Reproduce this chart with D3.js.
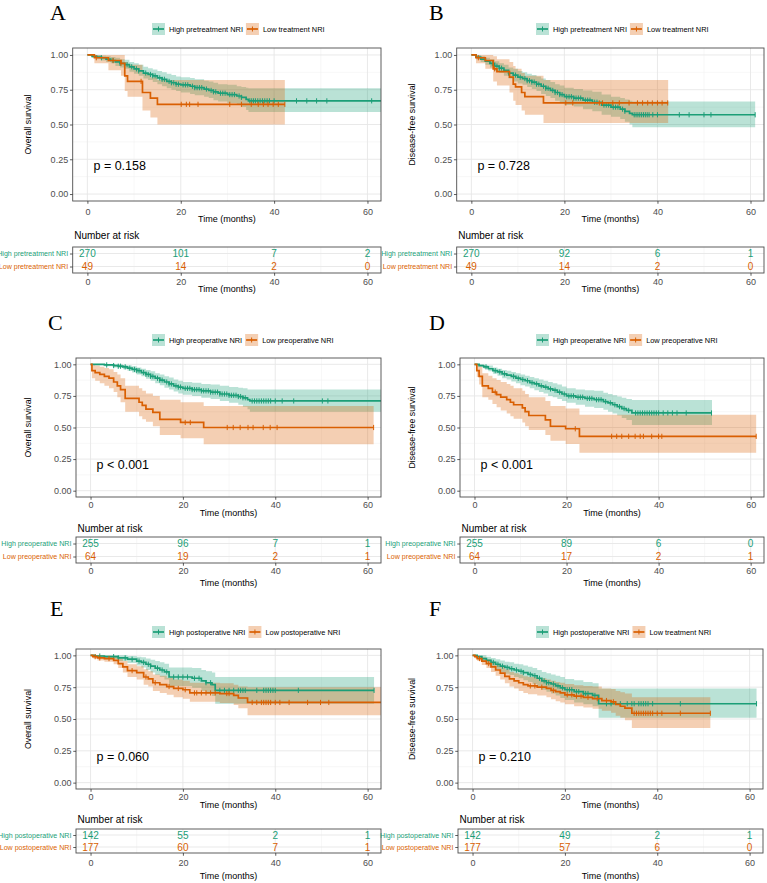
<!DOCTYPE html>
<html>
<head>
<meta charset="utf-8">
<script src="https://cdn.jsdelivr.net/npm/d3@7"></script>
<style>
body { margin: 0; background: #fff; }
svg text { font-family: "Liberation Sans", Arial, sans-serif; }
</style>
</head>
<body>
<svg id="chart" width="767" height="883"></svg>
<script>
// Kaplan-Meier steps: [time, survival, lower CI, upper CI]
// each curve also has an end time and a list of censoring times

// A -- overall survival, pretreatment NRI
var aHigh = [[0,1,1,1],[1,0.99,0.98,1],[2,0.985,0.97,1],[3,0.98,0.96,0.995],[4,0.97,0.95,0.99],[5,0.96,0.94,0.985],
  [6,0.95,0.92,0.98],[7,0.94,0.91,0.97],[8,0.93,0.9,0.965],[9,0.915,0.88,0.95],[10,0.9,0.865,0.94],[11,0.885,0.85,0.93],
  [12,0.87,0.83,0.915],[13,0.86,0.82,0.905],[14,0.85,0.805,0.895],[15,0.835,0.79,0.885],[16,0.825,0.775,0.875],
  [17,0.81,0.76,0.865],[18,0.8,0.75,0.855],[19,0.79,0.74,0.845],[20,0.785,0.73,0.84],[22,0.775,0.72,0.835],
  [23,0.765,0.71,0.825],[25,0.755,0.7,0.815],[26,0.745,0.69,0.81],[27,0.735,0.675,0.8],[28,0.725,0.665,0.79],
  [30,0.715,0.655,0.785],[32,0.705,0.64,0.775],[33,0.695,0.625,0.77],[34,0.68,0.605,0.765],[34.5,0.67,0.59,0.76]];
var aHighEnd = 63.5;
var aHighCens = [3,5.5,7,8.5,9.5,10.5,11,12.5,13.5,14,14.5,15.5,16,16.5,17.5,18,18.5,19,19.5,20.5,21,21.5,22.5,23,23.5,
  24,24.5,25.5,26.5,27,27.5,28.5,29,29.5,30.5,31,31.5,32.5,33,34.8,35.2,35.6,36,36.5,37,37.5,38,38.5,39,40,44.8,47,49.1,51.3,60.9];
var aLow = [[0,1,1,1],[1.5,0.98,0.94,1],[4.5,0.96,0.89,1],[7.2,0.94,0.85,1],[8,0.85,0.74,0.95],[8.6,0.81,0.7,0.93],
  [11.8,0.73,0.6,0.87],[13.5,0.69,0.55,0.84],[15,0.645,0.5,0.82]];
var aLowEnd = 42.3;
var aLowCens = [1.9,5.5,7.2,11.5,20.1,21.2,21.9,23.7,30.5,33,35.1,36.6,37.7,38.7,39.8,40.9,42.3];

// B -- disease-free survival, pretreatment NRI
var bHigh = [[0,1,1,1],[1,0.985,0.97,1],[2,0.97,0.95,0.99],[3,0.955,0.93,0.98],[4,0.94,0.91,0.97],[5,0.92,0.885,0.955],
  [6,0.905,0.87,0.94],[7,0.89,0.85,0.93],[8,0.87,0.83,0.91],[9,0.855,0.81,0.9],[10,0.84,0.795,0.885],[11,0.83,0.785,0.875],
  [12,0.815,0.77,0.865],[13,0.805,0.755,0.855],[14,0.79,0.74,0.845],[15,0.775,0.72,0.83],[16,0.76,0.705,0.82],
  [17,0.745,0.69,0.805],[18,0.73,0.67,0.79],[19,0.715,0.655,0.78],[20,0.7,0.64,0.765],[22,0.69,0.63,0.755],
  [24,0.675,0.61,0.745],[26,0.66,0.595,0.735],[28,0.64,0.57,0.715],[30,0.625,0.555,0.7],[32,0.61,0.54,0.69],
  [33,0.595,0.52,0.68],[34,0.58,0.5,0.67],[34.6,0.57,0.48,0.665]];
var bHighEnd = 61;
var bHighCens = [4.5,5.5,6,6.5,8,9.5,10.5,11.5,12,12.5,13,13.5,14,14.5,15.5,16,16.5,17.5,18,18.5,19,19.5,20.5,21,21.5,
  22,22.5,23,23.5,24.5,25,25.5,26.5,27,28.5,29,29.5,30.5,31,31.5,32.5,33,35,35.4,35.8,36.2,36.6,37,37.4,37.8,38.2,39,40,
  44.7,46.8,50,51.5,61];
var bLow = [[0,1,1,1],[1,0.98,0.94,1],[3,0.96,0.9,1],[4.7,0.9,0.81,0.99],[5.5,0.88,0.78,0.97],[8.2,0.84,0.73,0.95],
  [9,0.79,0.67,0.92],[9.5,0.77,0.64,0.9],[10.8,0.73,0.6,0.87],[11.5,0.7,0.57,0.85],[15.5,0.655,0.51,0.82]];
var bLowEnd = 42.3;
var bLowCens = [1.5,5,20.3,21.8,27.5,28.2,30.4,31.8,33.9,35.7,36.8,37.9,38.9,40,41,42.2];

// C -- overall survival, preoperative NRI
var cHigh = [[0,1,1,1],[3,0.995,0.985,1],[5,0.99,0.975,1],[6,0.985,0.97,1],[7,0.98,0.96,0.995],[8,0.97,0.95,0.99],
  [9,0.96,0.935,0.985],[10,0.95,0.92,0.975],[11,0.935,0.905,0.965],[12,0.92,0.885,0.955],[13,0.905,0.87,0.945],
  [14,0.89,0.85,0.93],[15,0.875,0.835,0.92],[16,0.86,0.815,0.905],[17,0.845,0.8,0.895],[18,0.83,0.785,0.88],
  [19,0.82,0.77,0.87],[20,0.81,0.76,0.86],[22,0.8,0.75,0.855],[24,0.79,0.735,0.845],[26,0.78,0.725,0.84],
  [28,0.765,0.71,0.83],[30,0.755,0.695,0.82],[32,0.745,0.68,0.815],[33,0.735,0.665,0.81],[34,0.72,0.645,0.8],
  [34.5,0.71,0.625,0.8]];
var cHighEnd = 63.5;
var cHighCens = [3.5,5,6,6.5,7.5,8.5,9.5,10,10.5,11.5,12,12.5,13,13.5,14.5,15,15.5,16.5,17,17.5,18.5,19,19.5,20.5,21,
  21.5,22,22.5,23,23.5,24,24.5,25,25.5,26,26.5,27,27.5,28,28.5,29,29.5,30,30.5,31,31.5,32,32.5,33,33.5,35,35.5,36,36.5,
  37,37.5,38,38.5,39,40,41.5,44,50.2,51.4];
var cLow = [[0,1,1,1],[0.3,0.95,0.89,1],[1,0.935,0.87,0.99],[2,0.92,0.85,0.98],[3,0.905,0.83,0.97],[4,0.89,0.81,0.96],
  [5,0.86,0.78,0.94],[5.8,0.83,0.74,0.92],[6.5,0.8,0.7,0.89],[7.5,0.73,0.625,0.83],[10.5,0.7,0.59,0.81],
  [11.2,0.675,0.565,0.79],[12,0.645,0.545,0.77],[13.5,0.62,0.51,0.75],[15,0.565,0.44,0.72],[19.5,0.54,0.415,0.7],
  [24.5,0.5,0.367,0.67]];
var cLowEnd = 61.3;
var cLowCens = [20.5,21.6,29.6,30.9,32.4,34.1,35.2,37.4,38.9,40.4,61.3];

// D -- disease-free survival, preoperative NRI
var dHigh = [[0,1,1,1],[1,0.99,0.98,1],[2,0.98,0.965,0.995],[3,0.965,0.945,0.99],[4,0.95,0.925,0.975],[5,0.94,0.91,0.965],
  [6,0.925,0.89,0.955],[7,0.915,0.88,0.95],[8,0.905,0.865,0.94],[9,0.89,0.85,0.93],[10,0.88,0.835,0.92],
  [11,0.87,0.825,0.91],[12,0.855,0.81,0.9],[13,0.845,0.795,0.89],[14,0.83,0.78,0.88],[15,0.82,0.77,0.87],
  [16,0.805,0.75,0.86],[17,0.795,0.74,0.85],[18,0.78,0.725,0.84],[19,0.765,0.71,0.825],[20,0.75,0.695,0.81],
  [22,0.74,0.68,0.8],[24,0.73,0.665,0.795],[26,0.72,0.655,0.79],[28,0.705,0.64,0.775],[29,0.695,0.625,0.765],
  [30,0.68,0.61,0.755],[31,0.665,0.595,0.745],[32,0.65,0.575,0.735],[33,0.635,0.56,0.725],[34.2,0.615,0.52,0.717]];
var dHighEnd = 51.6;
var dHighCens = [2.5,4.5,5.5,6.5,8.5,9.5,10.5,11.5,12.5,13.5,14.5,15.5,16.5,17.5,18.5,19.5,20.5,21,21.5,22.5,23,23.5,
  24.5,25,25.5,26.5,27,27.5,28.5,29.5,30.5,31.5,32.5,33.5,35,35.5,36,36.5,37,37.5,38,38.5,39,39.5,40,41,42,43,44,46,51.5];
var dLow = [[0,1,1,1],[0.5,0.95,0.9,1],[1,0.905,0.84,0.98],[1.7,0.83,0.74,0.93],[3,0.81,0.72,0.91],[3.9,0.78,0.685,0.89],
  [4.8,0.76,0.66,0.875],[5.7,0.74,0.635,0.86],[7,0.72,0.61,0.845],[7.8,0.7,0.59,0.83],[8.5,0.68,0.57,0.81],
  [10.4,0.655,0.54,0.79],[11,0.625,0.51,0.765],[11.8,0.595,0.48,0.74],[15.4,0.56,0.44,0.71],[16.5,0.51,0.395,0.67],
  [19.8,0.49,0.37,0.65],[22.8,0.43,0.3,0.6]];
var dLowEnd = 61.2;
var dLowCens = [4.5,21.9,29.8,30.9,32,33.5,34.9,36,36.7,38.5,40,40.7,61.2];

// E -- overall survival, postoperative NRI
var eHigh = [[0,1,1,1],[1,0.995,0.985,1],[3,0.99,0.97,1],[6,0.98,0.955,1],[8,0.97,0.94,0.995],[10,0.955,0.92,0.99],
  [11,0.945,0.905,0.985],[12,0.93,0.885,0.975],[13,0.915,0.865,0.965],[14,0.9,0.845,0.955],[15,0.885,0.83,0.945],
  [16,0.87,0.81,0.935],[17,0.83,0.76,0.905],[22,0.82,0.745,0.9],[24,0.8,0.72,0.885],[25,0.785,0.7,0.875],
  [26.3,0.77,0.68,0.865],[27,0.725,0.62,0.83]];
var eHighEnd = 61.4;
var eHighCens = [2,5,6,7.5,9,10.5,11.5,12.5,13,14.5,15.5,16.5,18,19,20,21,22.5,23.5,25,26,28,29,30,31,32,32.5,33,33.5,
  36,37.5,38,38.5,39,39.5,40,45,61.4];
var eLow = [[0,1,1,1],[0.5,0.99,0.975,1],[1.5,0.98,0.96,1],[3,0.975,0.95,0.995],[5,0.96,0.93,0.99],[6,0.935,0.9,0.975],
  [7,0.91,0.865,0.955],[8,0.88,0.83,0.93],[10,0.865,0.81,0.915],[11.5,0.83,0.77,0.89],[12.5,0.815,0.755,0.875],
  [13.5,0.785,0.72,0.85],[15,0.77,0.705,0.84],[16.5,0.755,0.69,0.825],[18,0.74,0.67,0.81],[20,0.73,0.66,0.8],
  [21.5,0.705,0.635,0.785],[28,0.7,0.625,0.78],[31,0.685,0.61,0.77],[32,0.665,0.585,0.755],[34,0.63,0.53,0.75]];
var eLowEnd = 63.5;
var eLowCens = [1,2,4,9,12,14,17,19,20.5,22.5,23,24,25,26,27,29.5,30,35,36,37,37.5,38,38.5,39,40,41,43,47,49.8,51.6];

// F -- disease-free survival, postoperative NRI
var fHigh = [[0,1,1,1],[1,0.99,0.975,1],[2,0.975,0.95,1],[3,0.96,0.93,0.99],[4,0.945,0.91,0.98],[5,0.93,0.89,0.97],
  [6,0.915,0.87,0.96],[7,0.905,0.855,0.95],[8,0.895,0.845,0.945],[9,0.885,0.83,0.935],[10,0.875,0.82,0.93],
  [11,0.865,0.805,0.92],[12,0.85,0.79,0.91],[13,0.84,0.775,0.9],[14,0.82,0.755,0.885],[15,0.8,0.73,0.87],
  [16,0.785,0.715,0.86],[17,0.775,0.7,0.85],[18,0.76,0.685,0.84],[19,0.745,0.665,0.83],[20,0.73,0.65,0.815],
  [22,0.715,0.63,0.805],[24,0.7,0.615,0.79],[26,0.685,0.6,0.78],[27.3,0.62,0.51,0.74]];
var fHighEnd = 61.5;
var fHighCens = [2,4.5,5.5,6.5,7.5,8.5,9.5,10.5,11,12.5,13.5,14.5,15.5,16,16.5,17.5,18.5,19.5,20.5,21,21.5,22.5,23,24,
  24.5,25,26.5,29,30,32,33.5,34.5,35,36,36.5,37,37.5,38,39,45,61.5];
var fLow = [[0,1,1,1],[0.5,0.99,0.975,1],[1,0.975,0.955,0.995],[2,0.955,0.925,0.985],[3,0.935,0.9,0.97],[4,0.91,0.87,0.95],
  [5,0.885,0.84,0.93],[6,0.86,0.81,0.91],[7,0.835,0.78,0.89],[8,0.815,0.755,0.87],[9,0.8,0.74,0.86],[10,0.785,0.72,0.85],
  [11,0.77,0.705,0.835],[12,0.76,0.695,0.83],[14,0.75,0.685,0.82],[16,0.74,0.67,0.81],[17,0.725,0.655,0.8],
  [18,0.715,0.64,0.79],[19,0.705,0.63,0.785],[20,0.69,0.615,0.775],[22,0.68,0.6,0.765],[24,0.67,0.59,0.76],
  [26,0.66,0.58,0.755],[28,0.645,0.565,0.74],[30,0.635,0.55,0.735],[31,0.615,0.525,0.72],[32,0.6,0.51,0.71],
  [33,0.585,0.49,0.7],[34.5,0.545,0.43,0.67]];
var fLowEnd = 51.5;
var fLowCens = [1.5,3.5,12.5,13.5,15,17.5,20.5,21.5,22.5,23.5,25,27,29,30.5,35,35.5,36,36.5,37,37.5,38,38.5,39,40,41,45,51.5];

// numbers at risk at 0, 20, 40, 60 months
var riskTimes = [0, 20, 40, 60];
var aRisk = [[270, 101, 7, 2], [49, 14, 2, 0]];
var bRisk = [[270, 92, 6, 1], [49, 14, 2, 0]];
var cRisk = [[255, 96, 7, 1], [64, 19, 2, 1]];
var dRisk = [[255, 89, 6, 0], [64, 17, 2, 1]];
var eRisk = [[142, 55, 2, 1], [177, 60, 7, 1]];
var fRisk = [[142, 49, 2, 1], [177, 57, 6, 0]];

var pValues = ["p = 0.158", "p = 0.728", "p < 0.001", "p < 0.001", "p = 0.060", "p = 0.210"];
var legendLabels = [
  ["High pretreatment NRI", "Low treatment NRI"],
  ["High pretreatment NRI", "Low treatment NRI"],
  ["High preoperative NRI", "Low preoperative NRI"],
  ["High preoperative NRI", "Low preoperative NRI"],
  ["High postoperative NRI", "Low postoperative NRI"],
  ["High postoperative NRI", "Low treatment NRI"]
];
var tableLabels = [
  ["High pretreatment NRI", "Low pretreatment NRI"],
  ["High pretreatment NRI", "Low pretreatment NRI"],
  ["High preoperative NRI", "Low preoperative NRI"],
  ["High preoperative NRI", "Low preoperative NRI"],
  ["High postoperative NRI", "Low postoperative NRI"],
  ["High postoperative NRI", "Low postoperative NRI"]
];
var yTitles = ["Overall survival", "Disease-free survival"];
var xTicks = [0, 20, 40, 60];
var yTicks = [0, 0.25, 0.5, 0.75, 1];

var GREEN = "#1B9E77", ORANGE = "#D95F02";

///////////////////////////////////////////////////////////////////////////////
// layout (pixel positions of each panel)

var rows = [
  { top: 48,  bottom: 201, tickY: 211.5, titleY: 219, nrY: 235,   tTop: 247, tBottom: 273, tick2Y: 282,   title2Y: 289,   legendY: 29,  letterY: 20 },
  { top: 358, bottom: 497, tickY: 505,   titleY: 513, nrY: 528.5, tTop: 537, tBottom: 563, tick2Y: 571,   title2Y: 583,   legendY: 340, letterY: 330 },
  { top: 649, bottom: 789, tickY: 796.5, titleY: 805, nrY: 819.5, tTop: 829, tBottom: 853, tick2Y: 862.5, title2Y: 875.5, legendY: 632, letterY: 616 }
];
var cols = [
  [{ left: 72.7, right: 381, letterX: 50 }, { left: 76, right: 381, letterX: 48 }, { left: 76, right: 381, letterX: 50 }],
  [{ left: 456.7, right: 764, letterX: 429 }, { left: 460, right: 764, letterX: 429 }, { left: 458, right: 763, letterX: 429 }]
];

var panels = [
  { letter: "A", curves: [[aHigh, aHighEnd, aHighCens], [aLow, aLowEnd, aLowCens]], risk: aRisk },
  { letter: "B", curves: [[bHigh, bHighEnd, bHighCens], [bLow, bLowEnd, bLowCens]], risk: bRisk },
  { letter: "C", curves: [[cHigh, cHighEnd, cHighCens], [cLow, cLowEnd, cLowCens]], risk: cRisk },
  { letter: "D", curves: [[dHigh, dHighEnd, dHighCens], [dLow, dLowEnd, dLowCens]], risk: dRisk },
  { letter: "E", curves: [[eHigh, eHighEnd, eHighCens], [eLow, eLowEnd, eLowCens]], risk: eRisk },
  { letter: "F", curves: [[fHigh, fHighEnd, fHighCens], [fLow, fLowEnd, fLowCens]], risk: fRisk }
];

var svg = d3.select("#chart");

// survival value at time t from a step list
var survAt = function (steps, t) {
  var s = steps[0];
  steps.forEach(function (d) { if (d[0] <= t) s = d; });
  return s;
};

var styleAxis = function (sel, size) {
  sel.select(".domain").remove();
  sel.selectAll(".tick line").attr("stroke", "#333").attr("stroke-width", 0.8);
  sel.selectAll(".tick text").attr("fill", "#4d4d4d").style("font-size", size + "px");
};

var drawGrid = function (g, x, y, left, right, top, bottom, vMinor, vMajor, hMinor, hMajor) {
  g.append("rect").attr("x", left).attr("y", top).attr("width", right - left).attr("height", bottom - top).attr("fill", "#fff");
  g.selectAll(null).data(vMinor).enter().append("line")
    .attr("x1", x).attr("x2", x).attr("y1", top).attr("y2", bottom)
    .attr("stroke", "#efefef").attr("stroke-width", 0.5);
  g.selectAll(null).data(hMinor).enter().append("line")
    .attr("x1", left).attr("x2", right).attr("y1", y).attr("y2", y)
    .attr("stroke", "#efefef").attr("stroke-width", 0.5);
  g.selectAll(null).data(vMajor).enter().append("line")
    .attr("x1", x).attr("x2", x).attr("y1", top).attr("y2", bottom)
    .attr("stroke", "#e6e6e6").attr("stroke-width", 0.9);
  g.selectAll(null).data(hMajor).enter().append("line")
    .attr("x1", left).attr("x2", right).attr("y1", y).attr("y2", y)
    .attr("stroke", "#e6e6e6").attr("stroke-width", 0.9);
};

panels.forEach(function (p, i) {
  var r = rows[Math.floor(i / 2)], c = cols[i % 2][Math.floor(i / 2)];
  var g = svg.append("g");
  var x = d3.scaleLinear().domain([-3.15, 62.9]).range([c.left, c.right]);
  var y = d3.scaleLinear().domain([-0.05, 1.05]).range([r.bottom, r.top]);
  var colors = [GREEN, ORANGE];

  // panel letter
  g.append("text").attr("x", c.letterX).attr("y", r.letterY).text(p.letter)
    .style("font-family", "'Liberation Serif', 'Times New Roman', serif").style("font-size", "22px");

  // legend
  var lx = i % 2 ? 536 : 152;
  legendLabels[i].forEach(function (lbl, k) {
    g.append("rect").attr("x", lx).attr("y", r.legendY - 6).attr("width", 13).attr("height", 12)
      .attr("fill", colors[k]).attr("fill-opacity", 0.3);
    g.append("line").attr("x1", lx + 1).attr("x2", lx + 12).attr("y1", r.legendY).attr("y2", r.legendY)
      .attr("stroke", colors[k]).attr("stroke-width", 1.7);
    g.append("line").attr("x1", lx + 6.5).attr("x2", lx + 6.5).attr("y1", r.legendY - 2.5).attr("y2", r.legendY + 2.5)
      .attr("stroke", colors[k]).attr("stroke-width", 1);
    var t = g.append("text").attr("x", lx + 17).attr("y", r.legendY).attr("dy", "0.35em")
      .style("font-size", "7.4px").text(lbl);
    lx += 17 + t.node().getComputedTextLength() + 3;
  });

  // survival plot
  drawGrid(g, x, y, c.left, c.right, r.top, r.bottom, [10, 30, 50], xTicks, [0.125, 0.375, 0.625, 0.875], yTicks);

  var clipId = "clip" + p.letter;
  svg.append("clipPath").attr("id", clipId).append("rect")
    .attr("x", c.left).attr("y", r.top).attr("width", c.right - c.left).attr("height", r.bottom - r.top);
  var plot = g.append("g").attr("clip-path", "url(#" + clipId + ")");

  var area = d3.area().curve(d3.curveStepAfter)
    .x(function (d) { return x(d[0]); }).y0(function (d) { return y(d[2]); }).y1(function (d) { return y(d[3]); });
  var line = d3.line().curve(d3.curveStepAfter)
    .x(function (d) { return x(d[0]); }).y(function (d) { return y(d[1]); });

  var withEnd = function (cv) {
    var last = cv[0][cv[0].length - 1];
    return cv[0].concat([[cv[1], last[1], last[2], last[3]]]);
  };

  p.curves.forEach(function (cv, k) {
    plot.append("path").attr("d", area(withEnd(cv))).attr("fill", colors[k]).attr("fill-opacity", 0.3);
  });
  p.curves.forEach(function (cv, k) {
    plot.append("path").attr("d", line(withEnd(cv))).attr("fill", "none")
      .attr("stroke", colors[k]).attr("stroke-width", 1.7);
    plot.selectAll(null).data(cv[2]).enter().append("line")
      .attr("x1", function (t) { return x(t); }).attr("x2", function (t) { return x(t); })
      .attr("y1", function (t) { return y(survAt(cv[0], t)[1]) - 2.6; })
      .attr("y2", function (t) { return y(survAt(cv[0], t)[1]) + 2.6; })
      .attr("stroke", colors[k]).attr("stroke-width", 1);
  });

  g.append("rect").attr("x", c.left).attr("y", r.top).attr("width", c.right - c.left).attr("height", r.bottom - r.top)
    .attr("fill", "none").attr("stroke", "#4d4d4d").attr("stroke-width", 0.9);

  g.append("text").attr("x", x(1.3)).attr("y", y(0.17)).style("font-size", "12.5px").text(pValues[i]);

  g.append("g").attr("transform", "translate(" + c.left + ",0)")
    .call(d3.axisLeft(y).tickValues(yTicks).tickFormat(d3.format(".2f")).tickSize(2.75).tickPadding(1.8))
    .call(styleAxis, 9);
  g.append("g").attr("transform", "translate(0," + r.bottom + ")")
    .call(d3.axisBottom(x).tickValues(xTicks).tickSize(2.75).tickPadding(r.tickY - 3.2 - r.bottom - 2.75))
    .call(styleAxis, 9);

  g.append("text").attr("x", (c.left + c.right) / 2).attr("y", r.titleY).attr("dy", "0.35em")
    .attr("text-anchor", "middle").style("font-size", "9px").text("Time (months)");
  var ymid = (r.top + r.bottom) / 2, ytx = i % 2 ? 412 : 28;
  g.append("text").attr("transform", "translate(" + ytx + "," + ymid + ") rotate(-90)").attr("dy", "0.35em")
    .attr("text-anchor", "middle").style("font-size", "8.8px").text(yTitles[i % 2]);

  // risk table
  g.append("text").attr("x", c.left + 1.5).attr("y", r.nrY).attr("dy", "0.35em")
    .style("font-size", "10px").text("Number at risk");

  var ty = d3.scalePoint().domain([0, 1]).range([r.tTop, r.tBottom]).padding(0.5);
  drawGrid(g, x, ty, c.left, c.right, r.tTop, r.tBottom, [10, 30, 50], xTicks, [], [0, 1]);
  g.append("rect").attr("x", c.left).attr("y", r.tTop).attr("width", c.right - c.left).attr("height", r.tBottom - r.tTop)
    .attr("fill", "none").attr("stroke", "#4d4d4d").attr("stroke-width", 0.9);

  p.risk.forEach(function (vals, k) {
    g.selectAll(null).data(vals).enter().append("text")
      .attr("x", function (d, j) { return x(riskTimes[j]); }).attr("y", ty(k)).attr("dy", "0.35em")
      .attr("text-anchor", "middle").attr("fill", colors[k]).style("font-size", "10px")
      .text(function (d) { return d; });
  });

  var tl = g.append("g").attr("transform", "translate(" + c.left + ",0)")
    .call(d3.axisLeft(ty).tickFormat(function (k) { return tableLabels[i][k]; }).tickSize(2.75).tickPadding(1.8))
    .call(styleAxis, 7.1);
  tl.selectAll(".tick text").attr("fill", function (k) { return colors[k]; });

  g.append("g").attr("transform", "translate(0," + r.tBottom + ")")
    .call(d3.axisBottom(x).tickValues(xTicks).tickSize(2.75).tickPadding(r.tick2Y - 3.2 - r.tBottom - 2.75))
    .call(styleAxis, 9);
  g.append("text").attr("x", (c.left + c.right) / 2).attr("y", r.title2Y).attr("dy", "0.35em")
    .attr("text-anchor", "middle").style("font-size", "9px").text("Time (months)");
});
</script>
</body>
</html>
